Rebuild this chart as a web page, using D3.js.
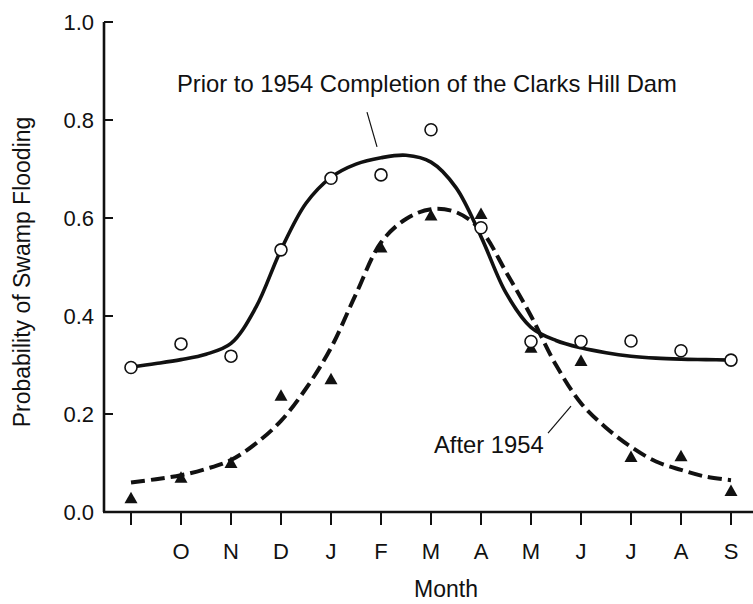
<!DOCTYPE html>
<html>
<head>
<meta charset="utf-8">
<script src="https://cdn.jsdelivr.net/npm/d3@7"></script>
<style>
  body { margin: 0; background: #fff; }
  svg text { font-family: "Liberation Sans", Arial, Helvetica, sans-serif; fill: #111; }
</style>
</head>
<body>
<div id="chart"></div>
<script>
// months along the x axis (first tick is unlabeled September)
var monthLabels = ['', 'O', 'N', 'D', 'J', 'F', 'M', 'A', 'M', 'J', 'J', 'A', 'S']

// observed probabilities
var priorObs = [0.295, 0.343, 0.318, 0.535, 0.681, 0.688, 0.780, 0.580, 0.348, 0.348, 0.349, 0.329, 0.310]
var afterObs = [0.028, 0.070, 0.100, 0.237, 0.271, 0.540, 0.605, 0.608, 0.335, 0.308, 0.112, 0.114, 0.043]

// fitted curves, sampled every half month (0, 0.5, 1, ... 12)
var priorFit = [0.296, 0.303, 0.311, 0.322, 0.344, 0.418, 0.535, 0.630, 0.683, 0.710, 0.723, 0.728,
  0.714, 0.662, 0.562, 0.447, 0.377, 0.350, 0.335, 0.325, 0.318, 0.314, 0.312, 0.311, 0.310]
var afterFit = [0.060, 0.067, 0.075, 0.088, 0.106, 0.140, 0.186, 0.252, 0.335, 0.445, 0.550, 0.598,
  0.618, 0.612, 0.575, 0.490, 0.400, 0.300, 0.222, 0.172, 0.133, 0.103, 0.086, 0.072, 0.065]

var yTicks = [0, 0.2, 0.4, 0.6, 0.8, 1.0]

var W = 753, H = 604
var axisX = 104, axisY = 512

var svg = d3.select('#chart').append('svg')
  .attr('width', W)
  .attr('height', H)

var x = d3.scaleLinear().domain([0, 12]).range([131, 731])
var y = d3.scaleLinear().domain([0, 1]).range([axisY, 22])

// axes lines
svg.append('line')
  .attr('x1', axisX).attr('x2', axisX)
  .attr('y1', y(1)).attr('y2', axisY)
  .attr('stroke', '#111').attr('stroke-width', 2.6)
svg.append('line')
  .attr('x1', axisX - 1).attr('x2', W)
  .attr('y1', axisY).attr('y2', axisY)
  .attr('stroke', '#111').attr('stroke-width', 2.6)

// y ticks, pointing inward
yTicks.forEach(function(t){
  svg.append('line')
    .attr('x1', axisX).attr('x2', axisX + 9)
    .attr('y1', y(t)).attr('y2', y(t))
    .attr('stroke', '#111').attr('stroke-width', 2)
  svg.append('text')
    .attr('x', axisX - 10)
    .attr('y', y(t))
    .attr('dy', '0.35em')
    .attr('text-anchor', 'end')
    .style('font-size', '22px')
    .text(d3.format('.1f')(t))
})

// x ticks, pointing down
monthLabels.forEach(function(m, i){
  svg.append('line')
    .attr('x1', x(i)).attr('x2', x(i))
    .attr('y1', axisY).attr('y2', axisY + 13)
    .attr('stroke', '#111').attr('stroke-width', 2)
  svg.append('text')
    .attr('x', x(i))
    .attr('y', 559)
    .attr('text-anchor', 'middle')
    .style('font-size', '22px')
    .text(m)
})

// axis titles
svg.append('text')
  .attr('x', 446)
  .attr('y', 597)
  .attr('text-anchor', 'middle')
  .style('font-size', '23px')
  .text('Month')

svg.append('text')
  .attr('transform', 'translate(30,272) rotate(-90)')
  .attr('text-anchor', 'middle')
  .style('font-size', '23px')
  .text('Probability of Swamp Flooding')

// fitted curves
var line = d3.line()
  .x(function(d, i){ return x(i / 2) })
  .y(function(d){ return y(d) })
  .curve(d3.curveCatmullRom.alpha(0.5))

svg.append('path')
  .attr('d', line(priorFit))
  .attr('fill', 'none')
  .attr('stroke', '#111')
  .attr('stroke-width', 3.6)

svg.append('path')
  .attr('d', line(afterFit))
  .attr('fill', 'none')
  .attr('stroke', '#111')
  .attr('stroke-width', 4)
  .attr('stroke-dasharray', '14,6')

// observed points
afterObs.forEach(function(v, i){
  var cx = x(i), cy = y(v)
  svg.append('path')
    .attr('d', 'M' + cx + ',' + (cy - 6.5) + 'L' + (cx + 6.5) + ',' + (cy + 5) + 'L' + (cx - 6.5) + ',' + (cy + 5) + 'Z')
    .attr('fill', '#111')
})

priorObs.forEach(function(v, i){
  svg.append('circle')
    .attr('cx', x(i))
    .attr('cy', y(v))
    .attr('r', 6)
    .attr('fill', '#fff')
    .attr('stroke', '#111')
    .attr('stroke-width', 1.6)
})

// annotations, placed in data units
var notes = [
  {text: 'Prior to 1954 Completion of the Clarks Hill Dam', at: [0.92, 0.857], from: [4.72, 0.816], to: [4.92, 0.745]},
  {text: 'After 1954', at: [6.06, 0.12], from: [8.34, 0.161], to: [8.8, 0.216]}
]
notes.forEach(function(n){
  svg.append('text')
    .attr('x', x(n.at[0]))
    .attr('y', y(n.at[1]))
    .style('font-size', '23.8px')
    .text(n.text)
  svg.append('line')
    .attr('x1', x(n.from[0])).attr('y1', y(n.from[1]))
    .attr('x2', x(n.to[0])).attr('y2', y(n.to[1]))
    .attr('stroke', '#111').attr('stroke-width', 1.2)
})
</script>
</body>
</html>
